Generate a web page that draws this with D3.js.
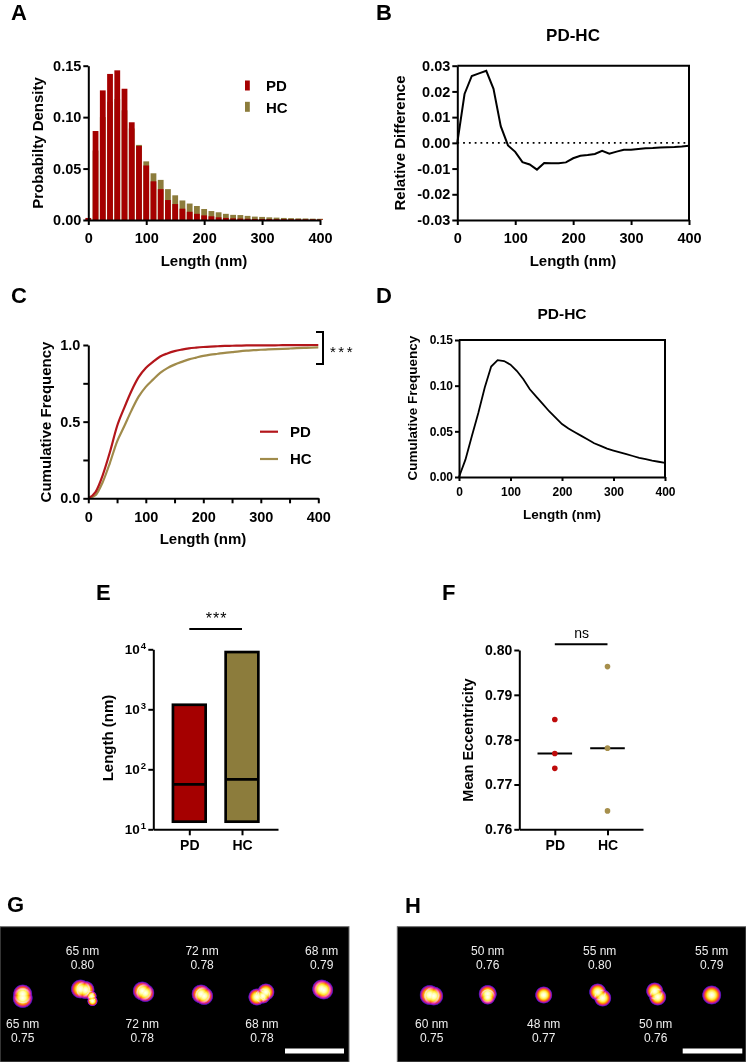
<!DOCTYPE html>
<html><head><meta charset="utf-8">
<script src="https://cdn.jsdelivr.net/npm/d3@7"></script>
<style>
body{margin:0;background:#fff}
</style></head><body>
<svg id="fig" width="746" height="1062" xmlns="http://www.w3.org/2000/svg"></svg>
<script>
// ---------------- DATA ----------------
const binCenters = [0,12.5,25,37.5,50,62.5,75,87.5,100,112.5,125,137.5,150,162.5,175,187.5,200,212.5,225,237.5,250,262.5,275,287.5,300,312.5,325,337.5,350,362.5,375,387.5,400];
const pdDensity = [0.002,0.0865,0.126,0.142,0.1455,0.1276,0.095,0.072,0.053,0.0376,0.030,0.0194,0.0155,0.011,0.008,0.006,0.0045,0.0036,0.0026,0.002,0.0016,0.0014,0.0012,0.001,0.001,0.0009,0.0008,0.0008,0.0007,0.0007,0.0006,0.0006,0.0005];
const hcDensity = [0.001,0.0675,0.100,0.115,0.1175,0.1066,0.089,0.073,0.057,0.0454,0.039,0.030,0.024,0.019,0.016,0.0136,0.0107,0.0087,0.0075,0.006,0.005,0.0048,0.004,0.0033,0.003,0.0026,0.0023,0.002,0.0018,0.0016,0.0015,0.0013,0.0012];
const relDiff = [0,0.019,0.026,0.027,0.028,0.021,0.0065,-0.001,-0.0035,-0.0075,-0.0084,-0.0104,-0.0078,-0.0079,-0.0079,-0.0076,-0.006,-0.005,-0.0047,-0.0043,-0.0031,-0.0042,-0.0034,-0.0027,-0.0027,-0.0024,-0.0021,-0.002,-0.0018,-0.0017,-0.0016,-0.0014,-0.0011];
const pdCumulative = [0,0.04,0.15,0.30,0.47,0.59,0.70,0.79,0.85,0.89,0.925,0.945,0.96,0.97,0.978,0.983,0.987,0.99,0.992,0.994,0.995,0.996,0.997,0.997,0.998,0.998,0.998,0.999,0.999,0.999,0.999,1.0,1.0];
const hcCumulative = [0,0.02,0.105,0.23,0.37,0.47,0.572,0.663,0.727,0.774,0.818,0.849,0.872,0.89,0.906,0.918,0.929,0.937,0.943,0.949,0.954,0.959,0.963,0.966,0.969,0.971,0.973,0.975,0.977,0.979,0.981,0.983,0.984];
const cumDiff = [0,0.019,0.045,0.07,0.098,0.121,0.128,0.127,0.123,0.116,0.107,0.096,0.088,0.080,0.072,0.065,0.058,0.053,0.049,0.045,0.041,0.037,0.034,0.031,0.029,0.027,0.025,0.023,0.021,0.0195,0.018,0.0167,0.0155];
const groups = ["PD","HC"];
const lengthMin = [13.4, 13.4];
const lengthMedian = [56, 68];
const lengthMax = [1190, 9000];
const eccPD = [0.7845, 0.7769, 0.7736];
const eccHC = [0.7963, 0.7781, 0.7641];
const eccMedian = [0.7769, 0.7781];
const gLengths = ["65 nm","65 nm","72 nm","72 nm","68 nm","68 nm"];
const gEcc = ["0.75","0.80","0.78","0.78","0.78","0.79"];
const hLengths = ["60 nm","50 nm","48 nm","55 nm","50 nm","55 nm"];
const hEcc = ["0.75","0.76","0.77","0.80","0.76","0.79"];
const xTicks = [0,100,200,300,400];

// ---------------- STYLE ----------------
const FONT = '"Liberation Sans", Arial, Helvetica, sans-serif';
const PD_COL = "#A50000", HC_COL = "#8C7C3C";
const PD_LINE = "#B3161B", HC_LINE = "#A08B4B";
const PD_DOT = "#BE0A0A", HC_DOT = "#A68F4C";
const f2 = (d) => d3.format(".2f")(d).replace("\u2212", "-");

const svg = d3.select("#fig");
const defs = svg.append("defs");

function txt(x, y, s, o = {}) {
  const t = svg.append("text").attr("x", x).attr("y", y).text(s)
    .attr("font-family", FONT).attr("font-size", o.size || 15)
    .attr("font-weight", o.weight || "bold").attr("fill", o.fill || "#000")
    .attr("text-anchor", o.anchor || "middle");
  if (o.rotate) t.attr("transform", `rotate(-90,${x},${y})`);
  if (o.ls) t.attr("letter-spacing", o.ls);
  return t;
}
function styleAxis(g, fs) {
  g.attr("font-family", FONT).attr("font-size", fs).attr("font-weight", "bold");
  g.select(".domain").attr("stroke", "#000").attr("stroke-width", 2);
  g.selectAll(".tick line").attr("stroke", "#000").attr("stroke-width", 2);
  g.selectAll(".tick text").attr("fill", "#000");
}
function frame(x, y) {
  svg.append("path")
    .attr("d", `M${x.range()[0]},${y.range()[1]}H${x.range()[1]}V${y.range()[0]}`)
    .attr("fill", "none").attr("stroke", "#000").attr("stroke-width", 2);
}

// ---------------- PANEL A ----------------
{
  const x = d3.scaleLinear([0, 400], [88.3, 320]);
  const y = d3.scaleLinear([0, 0.15], [220, 65.7]);
  const bw = (x(12.5) - x(0)) * 0.8;
  svg.append("g").selectAll("rect").data(binCenters).join("rect")
    .attr("x", (d) => x(d) - bw / 2).attr("width", bw)
    .attr("y", (d, i) => y(hcDensity[i])).attr("height", (d, i) => y(0) - y(hcDensity[i]))
    .attr("fill", HC_COL);
  svg.append("g").selectAll("rect").data(binCenters).join("rect")
    .attr("x", (d) => x(d) - bw / 2).attr("width", bw)
    .attr("y", (d, i) => y(pdDensity[i])).attr("height", (d, i) => y(0) - y(pdDensity[i]))
    .attr("fill", PD_COL);
  const gx = svg.append("g").attr("transform", `translate(0,${y(0)})`)
    .call(d3.axisBottom(x).tickValues(xTicks).tickSize(5).tickPadding(8).tickSizeOuter(0));
  styleAxis(gx, 14.5);
  const gy = svg.append("g").attr("transform", `translate(${x(0)},0)`)
    .call(d3.axisLeft(y).tickValues([0, 0.05, 0.1, 0.15]).tickFormat(f2).tickSize(5).tickPadding(2).tickSizeOuter(0));
  styleAxis(gy, 14.5);
  txt(204, 266, "Length (nm)");
  txt(43, 143, "Probabilty Density", { rotate: true });
  [[PD_COL, "PD", 86], [HC_COL, "HC", 107.3]].forEach(([c, s, cy]) => {
    svg.append("rect").attr("x", 245).attr("y", cy - 5.5).attr("width", 4.8).attr("height", 10).attr("fill", c);
    txt(266, cy + 5.3, s, { anchor: "start" });
  });
  txt(11, 20, "A", { anchor: "start", size: 22 });
}

// ---------------- PANEL B ----------------
{
  const x = d3.scaleLinear([0, 400], [457.3, 689]);
  const y = d3.scaleLinear([-0.03, 0.03], [220, 65.7]);
  svg.append("line").attr("x1", x(0)).attr("x2", x(400)).attr("y1", y(0)).attr("y2", y(0))
    .attr("stroke", "#000").attr("stroke-width", 1.8).attr("stroke-dasharray", "1.8,4");
  svg.append("path").datum(relDiff)
    .attr("d", d3.line().x((d, i) => x(binCenters[i])).y((d) => y(d)))
    .attr("fill", "none").attr("stroke", "#000").attr("stroke-width", 2);
  frame(x, y);
  const gx = svg.append("g").attr("transform", `translate(0,${y.range()[0]})`)
    .call(d3.axisBottom(x).tickValues(xTicks).tickSize(5).tickPadding(8).tickSizeOuter(0));
  styleAxis(gx, 14.5);
  const gy = svg.append("g").attr("transform", `translate(${x(0)},0)`)
    .call(d3.axisLeft(y).tickValues([-0.03, -0.02, -0.01, 0, 0.01, 0.02, 0.03]).tickFormat(f2).tickSize(5).tickPadding(2).tickSizeOuter(0));
  styleAxis(gy, 14.5);
  txt(573, 266, "Length (nm)");
  txt(405, 143, "Relative Difference", { rotate: true });
  txt(573, 41, "PD-HC", { size: 17 });
  txt(376, 20, "B", { anchor: "start", size: 22 });
}

// ---------------- PANEL C ----------------
{
  const x = d3.scaleLinear([0, 400], [88.3, 318.3]);
  const y = d3.scaleLinear([0, 1], [498.3, 345]);
  const line = (arr) => d3.line().curve(d3.curveMonotoneX).x((d, i) => x(binCenters[i])).y((d) => y(d))(arr);
  svg.append("path").attr("d", line(hcCumulative)).attr("fill", "none").attr("stroke", HC_LINE).attr("stroke-width", 2.2);
  svg.append("path").attr("d", line(pdCumulative)).attr("fill", "none").attr("stroke", PD_LINE).attr("stroke-width", 2.2);
  const fmtX = (d) => (d % 100 === 0 ? d : "");
  const gx = svg.append("g").attr("transform", `translate(0,${y(0)})`)
    .call(d3.axisBottom(x).tickValues([0, 50, 100, 150, 200, 250, 300, 350, 400]).tickFormat(fmtX).tickSize(5).tickPadding(8).tickSizeOuter(0));
  styleAxis(gx, 14.5);
  const gy = svg.append("g").attr("transform", `translate(${x(0)},0)`)
    .call(d3.axisLeft(y).tickValues([0, 0.25, 0.5, 0.75, 1]).tickFormat((d) => (d % 0.5 === 0 ? d3.format(".1f")(d) : "")).tickSize(5).tickPadding(3).tickSizeOuter(0));
  styleAxis(gy, 14.5);
  txt(203, 544, "Length (nm)");
  txt(51, 422, "Cumulative Frequency", { rotate: true });
  [[PD_LINE, "PD", 431.7], [HC_LINE, "HC", 459]].forEach(([c, s, cy]) => {
    svg.append("line").attr("x1", 260).attr("x2", 278).attr("y1", cy).attr("y2", cy).attr("stroke", c).attr("stroke-width", 2.2);
    txt(290, cy + 5.3, s, { anchor: "start" });
  });
  svg.append("path").attr("d", "M316,332H323V364H316").attr("fill", "none").attr("stroke", "#000").attr("stroke-width", 2);
  txt(330, 357, "***", { anchor: "start", size: 15, weight: "normal", ls: 2.5 });
  txt(11, 303, "C", { anchor: "start", size: 22 });
}

// ---------------- PANEL D ----------------
{
  const x = d3.scaleLinear([0, 400], [459, 665]);
  const y = d3.scaleLinear([0, 0.15], [477, 340]);
  svg.append("path").datum(cumDiff)
    .attr("d", d3.line().x((d, i) => x(binCenters[i])).y((d) => y(d)))
    .attr("fill", "none").attr("stroke", "#000").attr("stroke-width", 1.8);
  frame(x, y);
  const gx = svg.append("g").attr("transform", `translate(0,${y(0)})`)
    .call(d3.axisBottom(x).tickValues(xTicks).tickSize(4).tickPadding(6).tickSizeOuter(0));
  styleAxis(gx, 12);
  const gy = svg.append("g").attr("transform", `translate(${x(0)},0)`)
    .call(d3.axisLeft(y).tickValues([0, 0.05, 0.1, 0.15]).tickFormat(f2).tickSize(4).tickPadding(2).tickSizeOuter(0));
  styleAxis(gy, 12);
  txt(562, 519, "Length (nm)", { size: 13.5 });
  txt(416.5, 408, "Cumulative Frequency", { rotate: true, size: 13.5 });
  txt(562, 319, "PD-HC", { size: 15.5 });
  txt(376, 303, "D", { anchor: "start", size: 22 });
}

// ---------------- PANEL E ----------------
{
  const y = d3.scaleLog([10, 10000], [829.3, 649.3]);
  const x = d3.scalePoint(groups, [153.3, 278]).padding(0.683);
  const bw = 32.7;
  groups.forEach((gname, i) => {
    svg.append("rect").attr("x", x(gname) - bw / 2).attr("width", bw)
      .attr("y", y(lengthMax[i])).attr("height", y(lengthMin[i]) - y(lengthMax[i]))
      .attr("fill", i === 0 ? PD_COL : HC_COL).attr("stroke", "#000").attr("stroke-width", 2.7);
    svg.append("line").attr("x1", x(gname) - bw / 2).attr("x2", x(gname) + bw / 2)
      .attr("y1", y(lengthMedian[i])).attr("y2", y(lengthMedian[i]))
      .attr("stroke", "#000").attr("stroke-width", 2.7);
  });
  const gx = svg.append("g").attr("transform", `translate(0,${y(10)})`)
    .call(d3.axisBottom(x).tickSize(6).tickPadding(5).tickSizeOuter(0));
  styleAxis(gx, 14);
  const gy = svg.append("g").attr("transform", `translate(153.3,0)`)
    .call(d3.axisLeft(y).tickValues([10, 100, 1000, 10000]).tickFormat("").tickSize(5).tickSizeOuter(0));
  styleAxis(gy, 13);
  [10, 100, 1000, 10000].forEach((v) => {
    const t = svg.append("text").attr("x", 146).attr("y", y(v) + 5).attr("text-anchor", "end")
      .attr("font-family", FONT).attr("font-weight", "bold").attr("font-size", 13.5);
    t.append("tspan").text("10");
    t.append("tspan").attr("dy", -5).attr("dx", 1).attr("font-size", 9.5).text(Math.round(Math.log10(v)));
  });
  txt(113, 738, "Length (nm)", { rotate: true });
  svg.append("line").attr("x1", x("PD")).attr("x2", x("HC")).attr("y1", 629).attr("y2", 629).attr("stroke", "#000").attr("stroke-width", 2);
  txt(216.7, 624, "***", { size: 16, weight: "normal", ls: 1 });
  txt(96, 600, "E", { anchor: "start", size: 22 });
}

// ---------------- PANEL F ----------------
{
  const y = d3.scaleLinear([0.76, 0.80], [829.3, 650]);
  const x = d3.scalePoint(groups, [519.3, 643]).padding(0.674);
  const pts = [eccPD, eccHC];
  const cols = [PD_DOT, HC_DOT];
  groups.forEach((gname, i) => {
    svg.append("line").attr("x1", x(gname) - 17.3).attr("x2", x(gname) + 17.3)
      .attr("y1", y(eccMedian[i])).attr("y2", y(eccMedian[i])).attr("stroke", "#000").attr("stroke-width", 2);
    svg.append("g").selectAll("circle").data(pts[i]).join("circle")
      .attr("cx", x(gname)).attr("cy", (d) => y(d)).attr("r", 2.8).attr("fill", cols[i]);
  });
  const gx = svg.append("g").attr("transform", `translate(0,${y(0.76)})`)
    .call(d3.axisBottom(x).tickSize(6).tickPadding(5).tickSizeOuter(0));
  styleAxis(gx, 14);
  const gy = svg.append("g").attr("transform", `translate(519.3,0)`)
    .call(d3.axisLeft(y).tickValues([0.76, 0.77, 0.78, 0.79, 0.80]).tickFormat(f2).tickSize(5).tickPadding(2).tickSizeOuter(0));
  styleAxis(gy, 14);
  txt(473, 740, "Mean Eccentricity", { size: 14.5, rotate: true });
  svg.append("line").attr("x1", x("PD")).attr("x2", x("HC")).attr("y1", 644.3).attr("y2", 644.3).attr("stroke", "#000").attr("stroke-width", 2);
  txt(581.7, 637.5, "ns", { size: 14, weight: "normal" });
  txt(442, 600, "F", { anchor: "start", size: 22 });
}

// ---------------- PANELS G & H (micrographs) ----------------
{
  const grad = defs.append("radialGradient").attr("id", "fire");
  [[0, "#ffffff", 1], [0.25, "#ffffb4", 1], [0.45, "#ffe840", 1], [0.58, "#ffa400", 1], [0.68, "#f4582a", 1],
   [0.77, "#d4227c", 1], [0.85, "#9016b8", 1], [0.93, "#4010a8", 0.85], [1, "#08043a", 0]]
    .forEach(([o, c, op]) => grad.append("stop").attr("offset", o).attr("stop-color", c).attr("stop-opacity", op));

  const gSpots = [
    [[0, 3, 10.5], [0, -1, 10]],
    [[-2, -6, 10], [3, -5, 9.5], [9, 1, 5.5], [10, 6, 5.5]],
    [[0, -4, 10], [3, -2, 9.5]],
    [[-1, -1, 10], [2, 1, 9.5]],
    [[-5, 2, 9], [4, -3, 9], [1, 1, 8]],
    [[0, -6, 10], [2, -5, 10]]
  ];
  const hSpots = [
    [[-2, 0, 10.5], [2, 1, 10]],
    [[0, -1, 9.5], [0, 2, 8]],
    [[0, 0, 9]],
    [[-2, -3, 9], [3, 3, 9]],
    [[-1, -4, 9], [2, 2, 9]],
    [[0, 0, 10]]
  ];

  function micro(x0, x1, slot0, slot1, lens, eccs, spots, bar) {
    svg.append("rect").attr("x", x0).attr("y", 926.7).attr("width", x1 - x0).attr("height", 1062 - 926.7)
      .attr("fill", "#000").attr("stroke", "#6a6a6a").attr("stroke-width", 1);
    const xs = d3.scalePoint(d3.range(lens.length), [slot0, slot1]);
    lens.forEach((L, i) => {
      const cx = xs(i), cy = 995;
      const g = svg.append("g").style("isolation", "isolate");
      spots[i].forEach(([dx, dy, r]) => {
        g.append("circle").attr("cx", cx + dx).attr("cy", cy + dy).attr("r", r)
          .attr("fill", "url(#fire)").style("mix-blend-mode", "lighten");
      });
      const top = i % 2 === 1;
      const ty = top ? 955 : 1028;
      txt(cx, ty, L, { size: 12, weight: "normal", fill: "#eeeeee" });
      txt(cx, ty + 14, eccs[i], { size: 12, weight: "normal", fill: "#eeeeee" });
    });
    svg.append("rect").attr("x", bar[0]).attr("y", 1048.5).attr("width", bar[1] - bar[0]).attr("height", 5).attr("fill", "#fff");
  }
  micro(0, 349, 22.7, 321.7, gLengths, gEcc, gSpots, [285, 344]);
  micro(397.3, 746, 431.7, 711.7, hLengths, hEcc, hSpots, [682.7, 742.3]);
  txt(7, 912, "G", { anchor: "start", size: 22 });
  txt(405, 913, "H", { anchor: "start", size: 22 });
}
</script>
</body></html>
